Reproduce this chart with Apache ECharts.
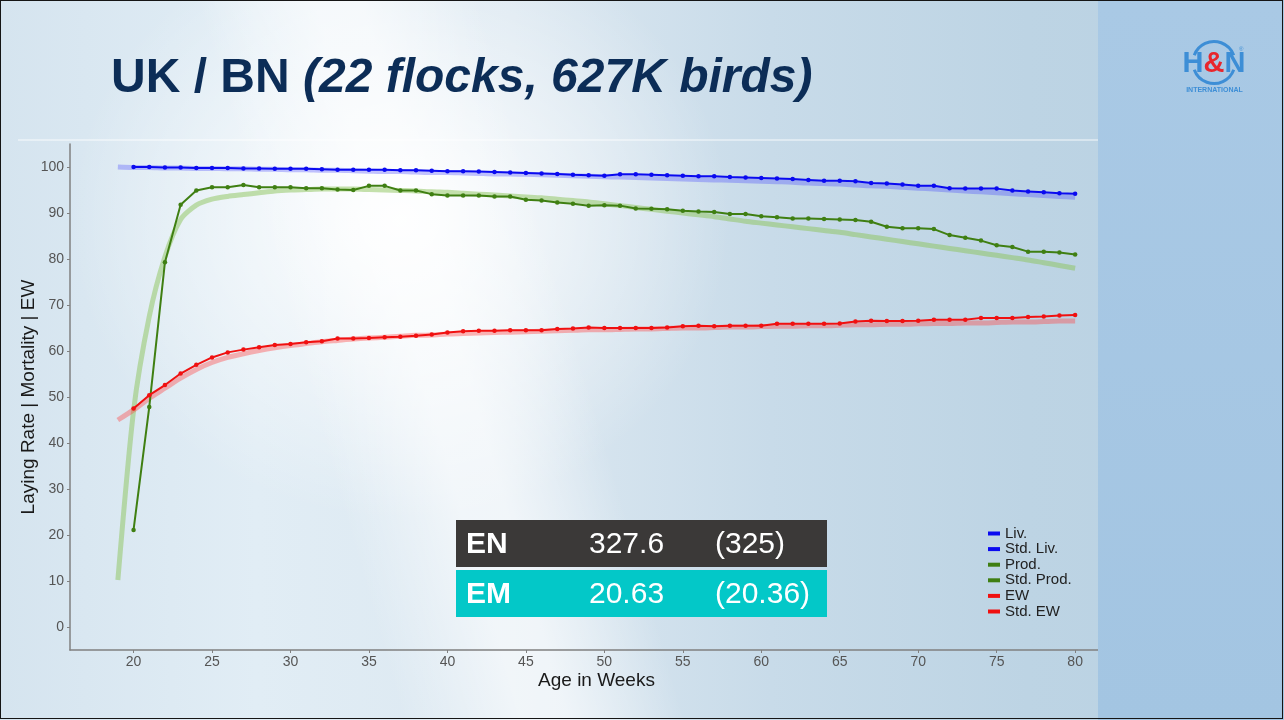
<!DOCTYPE html>
<html>
<head>
<meta charset="utf-8">
<script src="https://cdn.jsdelivr.net/npm/echarts@6/dist/echarts.min.js"></script>
<style>
  html, body { margin: 0; padding: 0; }
  #wrap { position: relative; width: 1284px; height: 720px; overflow: hidden;
    background:
      linear-gradient(74deg, rgba(255,255,255,0) 27%, rgba(255,255,255,0.6) 35%, rgba(255,255,255,0.6) 38%, rgba(255,255,255,0) 46%),
      radial-gradient(ellipse 330px 300px at 400px 220px, rgba(255,255,255,0.95), rgba(255,255,255,0) 100%),
      linear-gradient(90deg, #d5e4ef 0%, #e1edf5 20%, #dce8f1 40%, #c8dbe9 60%, #bdd4e4 80%, #b9d1e2 100%);
  }
  #c { position: absolute; left: 0; top: 0; width: 1284px; height: 720px; }
  #frame { position: absolute; left: 0; top: 0; width: 1281px; height: 717px; border: 1.5px solid #151515; pointer-events: none; }
</style>
</head>
<body>
<div id="wrap"><div id="c"></div><div id="frame"></div></div>
<script>
// ---- data ----
const weeks = [19,20,21,22,23,24,25,26,27,28,29,30,31,32,33,34,35,36,37,38,39,40,41,42,43,44,45,46,47,48,49,50,
  51,52,53,54,55,56,57,58,59,60,61,62,63,64,65,66,67,68,69,70,71,72,73,74,75,76,77,78,79,80];

const liv = [null,
  100.0,100.0,99.9,99.9,99.8,99.8,99.8,99.7,99.7,99.6,
  99.6,99.6,99.5,99.4,99.4,99.4,99.4,99.3,99.3,99.2,
  99.1,99.1,99.0,98.9,98.8,98.7,98.6,98.5,98.3,98.2,
  98.1,98.4,98.4,98.3,98.2,98.1,98.0,98.0,97.8,97.7,
  97.6,97.5,97.4,97.2,97.0,97.0,96.9,96.5,96.4,96.2,
  95.9,95.9,95.4,95.3,95.3,95.3,94.9,94.7,94.5,94.3,
  94.2];

const stdLiv = [100.0,
  99.9,99.9,99.8,99.8,99.7,99.7,99.6,99.6,99.5,99.5,
  99.4,99.4,99.3,99.3,99.2,99.1,99.0,99.0,98.9,98.8,
  98.8,98.7,98.6,98.5,98.5,98.4,98.3,98.2,98.1,98.0,
  97.9,97.8,97.7,97.6,97.5,97.4,97.3,97.2,97.1,97.0,
  96.9,96.8,96.7,96.5,96.4,96.3,96.1,95.9,95.8,95.6,
  95.4,95.2,95.0,94.8,94.6,94.4,94.2,94.0,93.8,93.6,
  93.4];

const prod = [null,
  21.1,47.8,79.3,91.8,94.9,95.6,95.6,96.1,95.6,95.6,
  95.6,95.4,95.4,95.1,95.0,95.9,95.9,94.9,94.9,94.1,
  93.8,93.8,93.8,93.6,93.6,92.9,92.7,92.3,92.0,91.6,
  91.7,91.6,91.0,90.9,90.8,90.5,90.3,90.2,89.8,89.8,
  89.3,89.1,88.8,88.8,88.7,88.6,88.5,88.1,87.0,86.7,
  86.7,86.5,85.2,84.6,84.0,83.0,82.6,81.6,81.6,81.4,
  81.0];

const stdProd = [10.2,
  47.0,67.5,80.5,88.6,91.7,93.0,93.6,94.0,94.4,94.8,
  95.0,95.1,95.2,95.2,95.2,95.1,95.0,94.9,94.8,94.6,
  94.5,94.3,94.1,93.9,93.7,93.5,93.3,93.0,92.7,92.4,
  92.0,91.6,91.2,90.8,90.4,90.0,89.6,89.2,88.7,88.2,
  87.8,87.4,87.0,86.6,86.2,85.8,85.3,84.8,84.3,83.8,
  83.3,82.8,82.3,81.8,81.3,80.8,80.3,79.8,79.2,78.6,
  78.0];

const ew = [null,
  47.5,50.4,52.6,55.1,57.0,58.6,59.7,60.3,60.8,61.3,
  61.5,61.9,62.1,62.7,62.7,62.8,63.0,63.1,63.3,63.6,
  64.0,64.3,64.4,64.4,64.5,64.5,64.5,64.8,64.9,65.1,
  65.0,65.0,65.0,65.0,65.1,65.4,65.5,65.4,65.5,65.5,
  65.5,65.9,65.9,65.9,65.9,66.0,66.4,66.6,66.5,66.5,
  66.6,66.8,66.8,66.8,67.2,67.2,67.2,67.4,67.5,67.7,
  67.8];

const stdEw = [45.0,
  47.2,49.7,51.9,54.1,56.0,57.5,58.6,59.4,60.1,60.7,
  61.2,61.6,62.0,62.3,62.6,62.8,63.0,63.2,63.4,63.5,
  63.7,63.8,63.9,64.0,64.1,64.2,64.3,64.4,64.5,64.6,
  64.6,64.7,64.8,64.8,64.9,65.0,65.0,65.1,65.2,65.2,
  65.3,65.4,65.4,65.5,65.5,65.6,65.7,65.7,65.8,65.8,
  65.9,66.0,66.0,66.1,66.1,66.2,66.3,66.3,66.4,66.5,
  66.5];

const xTicks = [20,25,30,35,40,45,50,55,60,65,70,75,80];
const yTicks = [0,10,20,30,40,50,60,70,80,90,100];

const seriesNames = ['Liv.','Std. Liv.','Prod.','Std. Prod.','EW','Std. EW'];
const titleMain = 'UK / BN ';
const titleSub = '(22 flocks, 627K birds)';
const tableRows = [
  { key: 'EN', val: '327.6', std: '(325)' },
  { key: 'EM', val: '20.63', std: '(20.36)' }
];

// ---- chart ----
const pairs = arr => weeks.map((w, i) => [w, arr[i]]);
const BLUE = '#0a0af0', GREEN = '#3f7f12', RED = '#f01010';
const font = '"Liberation Sans", Arial, sans-serif';

function actual(name, arr, color) {
  return {
    name, type: 'line', data: pairs(arr), z: 5,
    showSymbol: true, symbol: 'circle', symbolSize: 4.5,
    lineStyle: { color, width: 2 }, itemStyle: { color },
    emphasis: { disabled: true }, silent: true, animation: false
  };
}
function standard(name, arr, color, width) {
  return {
    name, type: 'line', data: pairs(arr), z: 3,
    showSymbol: false, smooth: 0.25,
    lineStyle: { color, width, cap: 'butt', join: 'round' }, itemStyle: { color },
    emphasis: { disabled: true }, silent: true, animation: false
  };
}

const chart = echarts.init(document.getElementById('c'), null, { renderer: 'canvas' });

const graphics = [
  { type: 'line', z: 1, shape: { x1: 18, y1: 140, x2: 1098, y2: 140 }, style: { stroke: 'rgba(255,255,255,0.85)', lineWidth: 1 } },
  // right panel
  { type: 'rect', z: 100, shape: { x: 1098, y: 0, width: 186, height: 720 },
    style: { fill: new echarts.graphic.LinearGradient(0, 0, 0, 1, [
      { offset: 0, color: '#a9c9e5' }, { offset: 1, color: '#a3c5e2' }]) } },
  // logo
  { type: 'arc', z: 101, shape: { cx: 1214, cy: 62.5, r: 21, startAngle: Math.PI + 0.35, endAngle: 2 * Math.PI - 0.35 },
    style: { stroke: '#3d8ed6', lineWidth: 3, fill: null } },
  { type: 'arc', z: 101, shape: { cx: 1214, cy: 62.5, r: 21, startAngle: 0.35, endAngle: Math.PI - 0.35 },
    style: { stroke: '#3d8ed6', lineWidth: 3, fill: null } },
  { type: 'text', z: 102, x: 1214, y: 64, style: {
      text: '{h|H}{a|&}{h|N}', align: 'center', verticalAlign: 'middle',
      rich: {
        h: { fontFamily: font, fontWeight: 'bold', fontSize: 29, fill: '#3d8ed6' },
        a: { fontFamily: font, fontWeight: 'bold', fontSize: 29, fill: '#e8262d' }
      } } },
  { type: 'text', z: 102, x: 1239, y: 46, style: { text: '®', fontSize: 6, fill: '#3d8ed6', fontFamily: font } },
  { type: 'text', z: 102, x: 1214.5, y: 90.5, style: { text: 'INTERNATIONAL', align: 'center', verticalAlign: 'middle',
      fontFamily: font, fontWeight: 'bold', fontSize: 7, fill: '#3d8ed6' } }
];

// table
const rowTops = [520, 570];
const rowColors = ['#3b3938', '#03c8c8'];
tableRows.forEach((r, i) => {
  const y0 = rowTops[i];
  graphics.push({ type: 'rect', z: 50, shape: { x: 456, y: y0, width: 371, height: 47 }, style: { fill: rowColors[i] } });
  graphics.push({ type: 'text', z: 51, x: 466, y: y0 + 24.5, style: { text: r.key, verticalAlign: 'middle',
    fontFamily: font, fontWeight: 'bold', fontSize: 30, fill: '#ffffff' } });
  graphics.push({ type: 'text', z: 51, x: 589, y: y0 + 24.5, style: { text: r.val, verticalAlign: 'middle',
    fontFamily: font, fontSize: 30, fill: '#ffffff' } });
  graphics.push({ type: 'text', z: 51, x: 715, y: y0 + 24.5, style: { text: r.std, verticalAlign: 'middle',
    fontFamily: font, fontSize: 30, fill: '#ffffff' } });
});

const legendColors = [BLUE, BLUE, GREEN, GREEN, RED, RED];

chart.setOption({
  backgroundColor: 'transparent',
  animation: false,
  title: {
    text: '{a|' + titleMain + '}{b|' + titleSub + '}',
    left: 106, top: 50,
    textStyle: {
      rich: {
        a: { fontFamily: font, fontWeight: 'bold', fontSize: 48, color: '#0c2d57' },
        b: { fontFamily: font, fontWeight: 'bold', fontStyle: 'italic', fontSize: 48, color: '#0c2d57' }
      }
    }
  },
  legend: {
    orient: 'vertical', left: 983, top: 521,
    itemWidth: 12, itemHeight: 4, itemGap: 0.6, icon: 'rect',
    textStyle: { fontFamily: font, fontSize: 15, color: '#222222', lineHeight: 15 },
    data: seriesNames.map((n, i) => ({ name: n, icon: 'rect', itemStyle: { color: legendColors[i], opacity: 1 } })),
    selectedMode: false
  },
  grid: { left: 70, right: 161, top: 144, bottom: 70, containLabel: false },
  xAxis: {
    type: 'value', min: 15.95, max: 83.05,
    name: 'Age in Weeks', nameLocation: 'middle', nameGap: 21, nameMoveOverlap: false,
    nameTextStyle: { fontFamily: font, fontSize: 19, color: '#1a1a1a' },
    axisLine: { show: true, onZero: false, lineStyle: { color: '#808080', width: 1.5 } },
    axisTick: { show: true, length: 3, lineStyle: { color: '#808080' }, customValues: xTicks },
    axisLabel: { color: '#555555', fontFamily: font, fontSize: 14, margin: 5, customValues: xTicks },
    splitLine: { show: false }
  },
  yAxis: {
    type: 'value', min: -5, max: 105,
    name: 'Laying Rate | Mortality | EW', nameLocation: 'middle', nameGap: 32, nameRotate: 90, nameMoveOverlap: false,
    nameTextStyle: { fontFamily: font, fontSize: 19, color: '#1a1a1a' },
    axisLine: { show: true, onZero: false, lineStyle: { color: '#808080', width: 1.5 } },
    axisTick: { show: true, length: 3, lineStyle: { color: '#808080' }, customValues: yTicks },
    axisLabel: { color: '#555555', fontFamily: font, fontSize: 14, margin: 6, customValues: yTicks },
    splitLine: { show: false }
  },
  series: [
    standard('Std. Liv.', stdLiv, 'rgba(60,60,255,0.3)', 5),
    standard('Std. Prod.', stdProd, 'rgba(140,195,90,0.5)', 5),
    standard('Std. EW', stdEw, 'rgba(255,70,70,0.4)', 5),
    actual('Liv.', liv, BLUE),
    actual('Prod.', prod, GREEN),
    actual('EW', ew, RED)
  ],
  graphic: graphics
});
</script>
</body>
</html>
